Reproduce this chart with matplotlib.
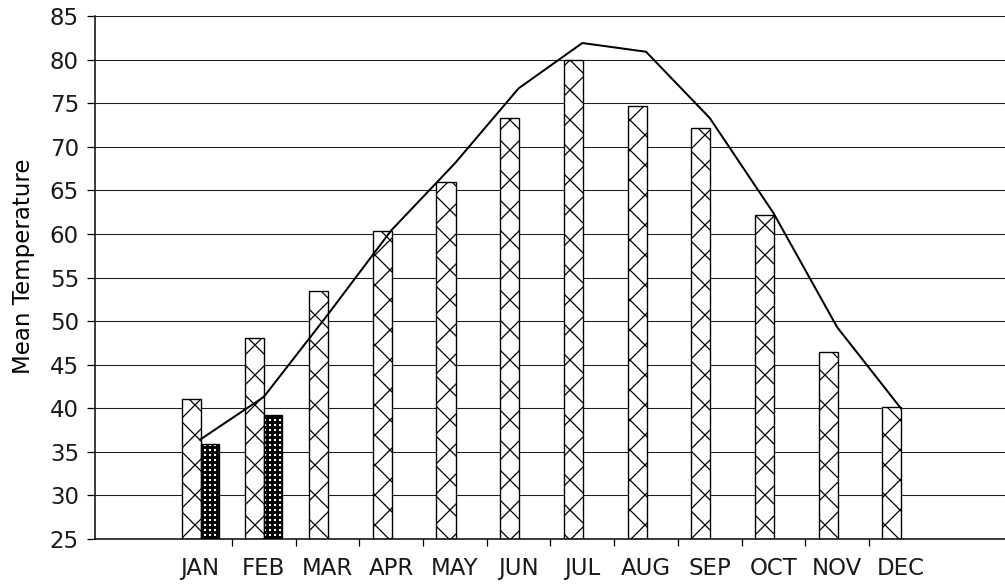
"""
Monthly mean temperature chart: two bar series plus a normals line.

Run:

    python plot.py
"""

import matplotlib
matplotlib.use("Agg")
import matplotlib.pyplot as plt


MONTHS = ["JAN", "FEB", "MAR", "APR", "MAY", "JUN",
          "JUL", "AUG", "SEP", "OCT", "NOV", "DEC"]

# hatched bars, one per month
MONTHLY_MEAN = [41.1, 48.1, 53.4, 60.3, 66.0, 73.3,
                79.9, 74.7, 72.1, 62.2, 46.5, 40.1]

# dark bars, only the first two months have values
CURRENT_MEAN = [35.9, 39.2]

# solid line
NORMAL_MEAN = [36.4, 41.3, 50.7, 60.4, 68.1, 76.7,
               81.9, 80.9, 73.3, 62.4, 49.3, 40.0]

Y_TICKS = [25, 30, 35, 40, 45, 50, 55, 60, 65, 70, 75, 80, 85]
Y_LABEL = "Mean Temperature"

# dpi 90 keeps the hatch lattice close to the scanned original
DPI = 90


def set_hatch_width(bars, width):
    """Per-bar hatch line width where matplotlib supports it."""
    for bar in bars:
        if hasattr(bar, "set_hatch_linewidth"):
            bar.set_hatch_linewidth(width)


def draw_chart():
    """Build the figure and save it as out.png."""
    plt.rcParams["font.family"] = ["DejaVu Sans"]
    plt.rcParams["font.size"] = 18.3
    plt.rcParams["text.color"] = "0.1"
    plt.rcParams["xtick.labelcolor"] = "0.1"
    plt.rcParams["ytick.labelcolor"] = "0.1"

    fig = plt.figure(figsize=(1005 / DPI, 586 / DPI), dpi=DPI)
    ax = fig.add_axes([0.0945, 0.0802, 0.9055, 0.8925])

    x = list(range(len(MONTHS)))

    ax.yaxis.grid(True, color="0.12", linewidth=0.85)
    ax.set_axisbelow(True)

    with plt.rc_context({"hatch.linewidth": 1.0}):
        hatched = ax.bar([i - 0.14 for i in x], [v - 25 for v in MONTHLY_MEAN],
                         bottom=25, width=0.3, color="white",
                         edgecolor="black", linewidth=1.1, hatch="x", zorder=2)
    set_hatch_width(hatched, 1.0)

    dark_x = x[:len(CURRENT_MEAN)]
    with plt.rc_context({"hatch.linewidth": 2.3}):
        dark = ax.bar([i + 0.15 for i in dark_x], [v - 25 for v in CURRENT_MEAN],
                      bottom=25, width=0.28, color="white",
                      edgecolor="black", linewidth=1.1, hatch="+++", zorder=2)
    set_hatch_width(dark, 2.3)

    ax.plot(x, NORMAL_MEAN, color="black", linewidth=1.6, zorder=3)

    ax.set_ylim(25, 85)
    ax.set_yticks(Y_TICKS)
    ax.set_xlim(-1.65, 12.635)
    ax.set_xticks(x)
    ax.set_xticklabels(MONTHS)
    ax.set_xticks([i + 0.5 for i in x[:-1]], minor=True)

    ax.tick_params(axis="x", which="major", length=0, pad=14.4)
    ax.tick_params(axis="x", which="minor", length=5.6, width=1.0, direction="out")
    ax.tick_params(axis="y", length=6.4, width=1.0, pad=6.4)

    for side in ["top", "right"]:
        ax.spines[side].set_visible(False)
    ax.spines["left"].set_linewidth(1.2)
    ax.spines["bottom"].set_linewidth(1.2)

    ax.set_ylabel(Y_LABEL, labelpad=12)
    ax.yaxis.label.set_y(0.522)

    fig.savefig("out.png", dpi=DPI)
    plt.close(fig)


def main():
    draw_chart()


if __name__ == "__main__":
    main()
